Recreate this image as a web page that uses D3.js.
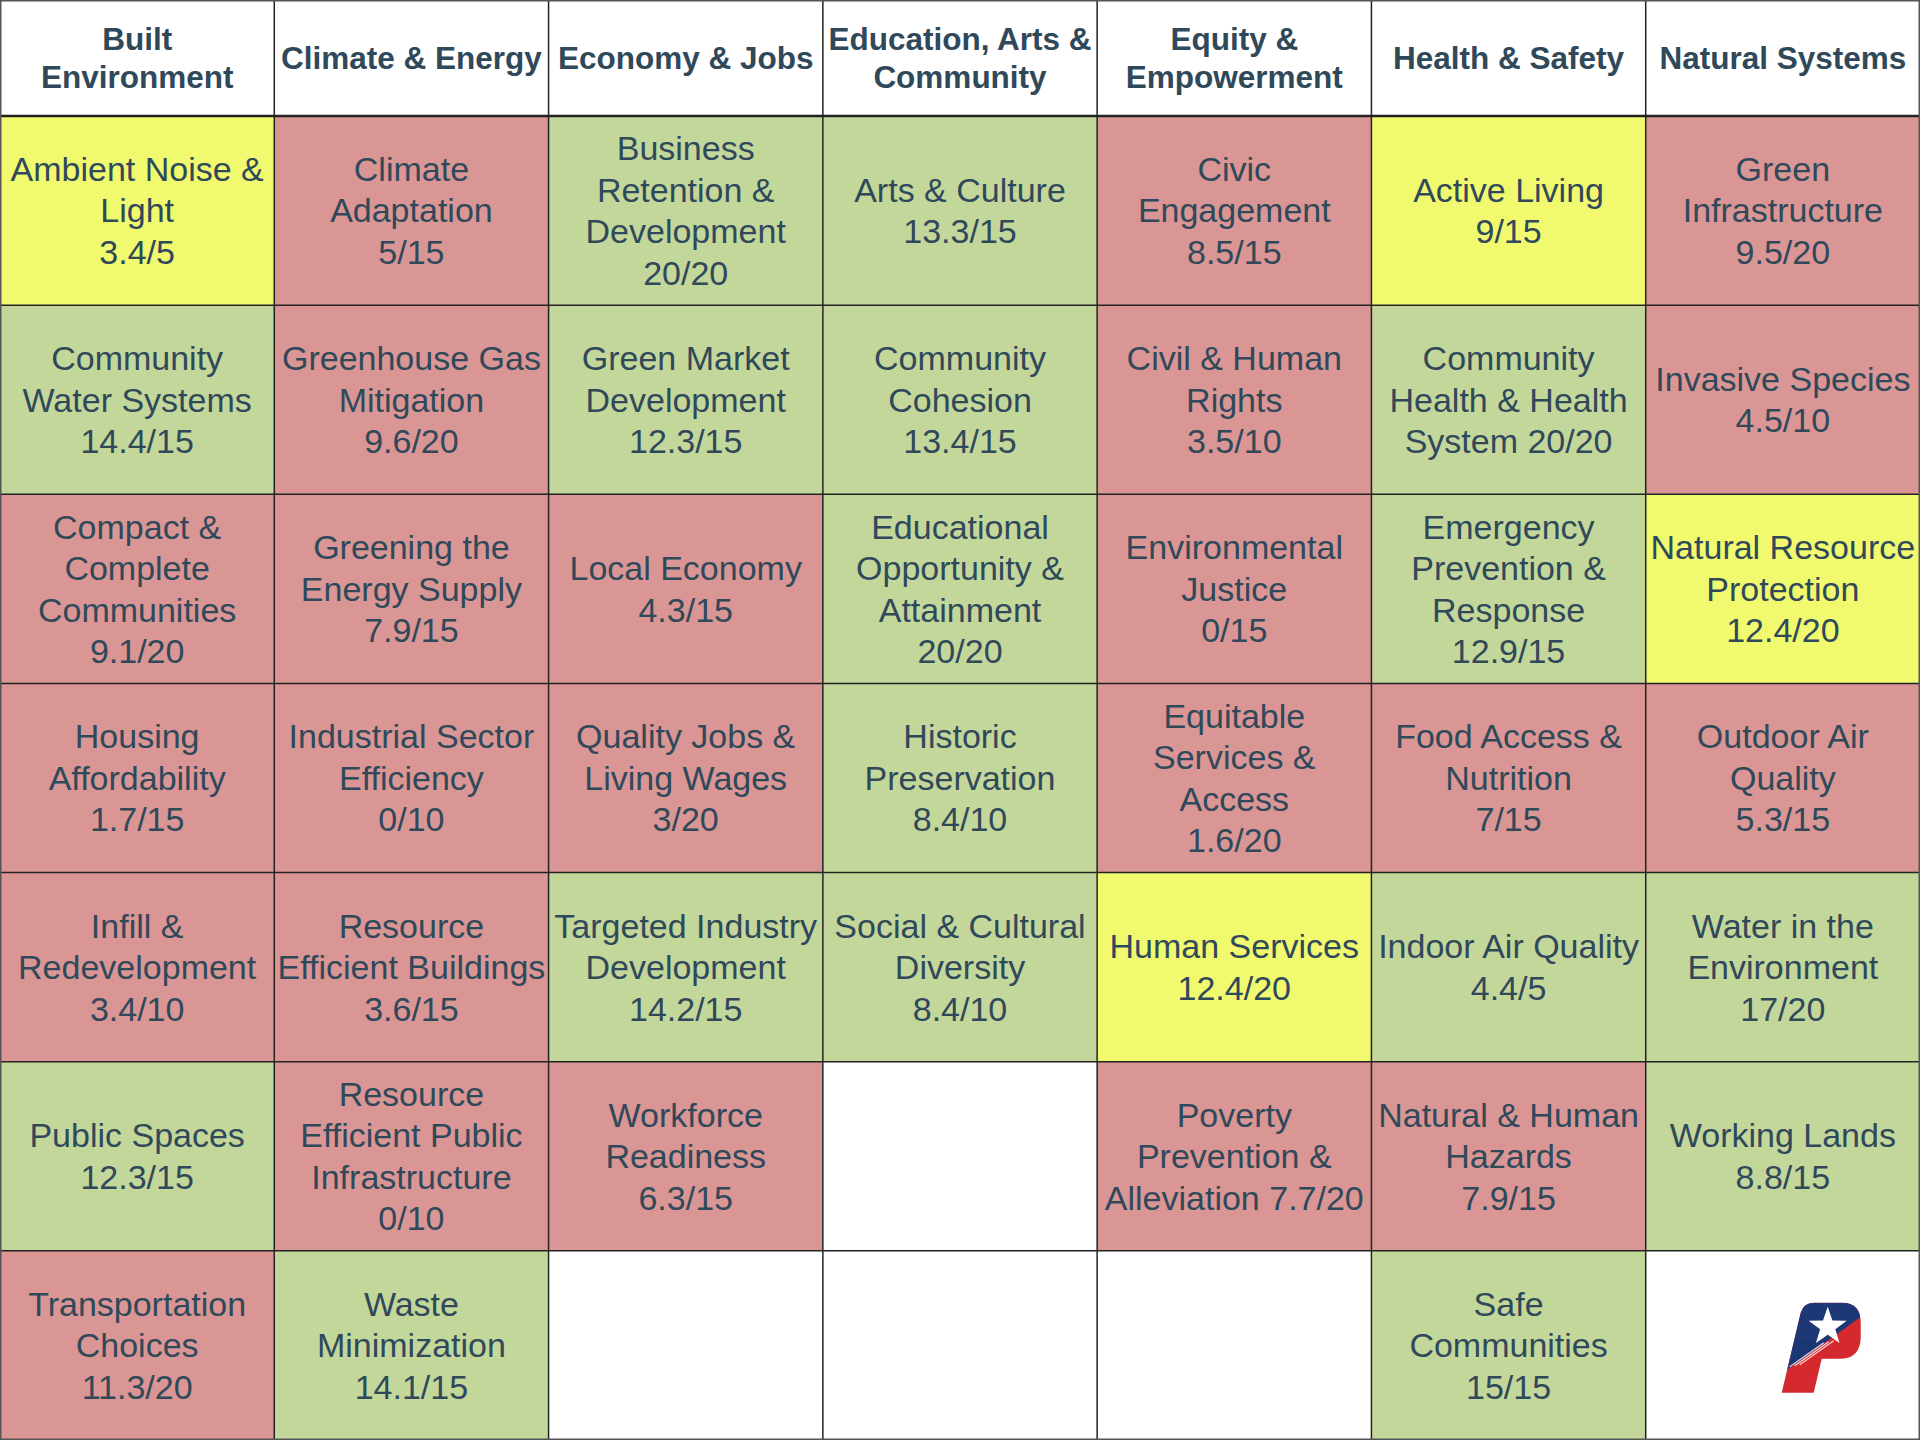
<!DOCTYPE html>
<html>
<head>
<meta charset="utf-8">
<script src="https://cdn.jsdelivr.net/npm/d3@7"></script>
<style>
  html, body { margin: 0; padding: 0; background: #fff; }
  svg { display: block; font-family: "Liberation Sans", Arial, sans-serif; }
</style>
</head>
<body>
<div id="chart"></div>
<script>
// column headings ("|" = line break)
const categories = [
  "Built|Environment",
  "Climate & Energy",
  "Economy & Jobs",
  "Education, Arts &|Community",
  "Equity &|Empowerment",
  "Health & Safety",
  "Natural Systems"
];

// objective names per column, top to bottom (null = empty cell)
const objectives = [
  ["Ambient Noise &|Light", "Community|Water Systems", "Compact &|Complete|Communities", "Housing|Affordability", "Infill &|Redevelopment", "Public Spaces", "Transportation|Choices"],
  ["Climate|Adaptation", "Greenhouse Gas|Mitigation", "Greening the|Energy Supply", "Industrial Sector|Efficiency", "Resource|Efficient Buildings", "Resource|Efficient Public|Infrastructure", "Waste|Minimization"],
  ["Business|Retention &|Development", "Green Market|Development", "Local Economy", "Quality Jobs &|Living Wages", "Targeted Industry|Development", "Workforce|Readiness", null],
  ["Arts & Culture", "Community|Cohesion", "Educational|Opportunity &|Attainment", "Historic|Preservation", "Social & Cultural|Diversity", null, null],
  ["Civic|Engagement", "Civil & Human|Rights", "Environmental|Justice", "Equitable|Services &|Access", "Human Services", "Poverty|Prevention &|Alleviation", null],
  ["Active Living", "Community|Health & Health|System", "Emergency|Prevention &|Response", "Food Access &|Nutrition", "Indoor Air Quality", "Natural & Human|Hazards", "Safe|Communities"],
  ["Green|Infrastructure", "Invasive Species", "Natural Resource|Protection", "Outdoor Air|Quality", "Water in the|Environment", "Working Lands", null]
];

// scores per column
const scores = [
  ["3.4/5", "14.4/15", "9.1/20", "1.7/15", "3.4/10", "12.3/15", "11.3/20"],
  ["5/15", "9.6/20", "7.9/15", "0/10", "3.6/15", "0/10", "14.1/15"],
  ["20/20", "12.3/15", "4.3/15", "3/20", "14.2/15", "6.3/15", null],
  ["13.3/15", "13.4/15", "20/20", "8.4/10", "8.4/10", null, null],
  ["8.5/15", "3.5/10", "0/15", "1.6/20", "12.4/20", "7.7/20", null],
  ["9/15", "20/20", "12.9/15", "7/15", "4.4/5", "7.9/15", "15/15"],
  ["9.5/20", "4.5/10", "12.4/20", "5.3/15", "17/20", "8.8/15", null]
];

// rating per column: g = on track, y = partial, r = needs work
const ratings = [
  ["y", "g", "r", "r", "r", "g", "r"],
  ["r", "r", "r", "r", "r", "r", "g"],
  ["g", "g", "r", "r", "g", "r", null],
  ["g", "g", "g", "g", "g", null, null],
  ["r", "r", "r", "r", "y", "r", null],
  ["y", "g", "g", "r", "g", "r", "g"],
  ["r", "r", "y", "r", "g", "g", null]
];

// objectives whose score sits on the last line of the name
const inlineScore = ["Community|Health & Health|System", "Poverty|Prevention &|Alleviation"];

const ratingColor = { g: "#c4d79b", y: "#f1fa6e", r: "#da9694" };
const textColor = "#30495a";

const width = 1920, height = 1440, headerH = 116;

const svg = d3.select("#chart").append("svg")
  .attr("width", width)
  .attr("height", height);

const x = d3.scaleBand().domain(d3.range(categories.length)).range([0, width]);
const y = d3.scaleBand().domain(d3.range(7)).range([headerH, height]);

// flatten to cells
const cells = [];
objectives.forEach((col, c) => col.forEach((name, r) => {
  cells.push({ c, r, name, score: scores[c][r], rating: ratings[c][r] });
}));

// header
const head = svg.append("g").selectAll("g").data(categories).join("g");
head.append("rect")
  .attr("x", (d, i) => x(i)).attr("y", 0)
  .attr("width", x.bandwidth()).attr("height", headerH)
  .attr("fill", "#fff");
head.each(function (d, i) {
  const lines = d.split("|");
  const lh = 37.3, fs = 31.5;
  d3.select(this).selectAll("text").data(lines).join("text")
    .attr("x", x(i) + x.bandwidth() / 2)
    .attr("y", (l, k) => headerH / 2 + (k - (lines.length - 1) / 2) * lh + fs * 0.35)
    .attr("text-anchor", "middle")
    .attr("font-size", fs)
    .attr("font-weight", "bold")
    .attr("fill", textColor)
    .text(l => l);
});

// body cells
const cell = svg.append("g").selectAll("g").data(cells).join("g");
cell.append("rect")
  .attr("x", d => x(d.c)).attr("y", d => y(d.r))
  .attr("width", x.bandwidth()).attr("height", y.bandwidth())
  .attr("fill", d => d.rating ? ratingColor[d.rating] : "#fff");

cell.filter(d => d.name).each(function (d) {
  let lines = d.name.split("|");
  if (inlineScore.includes(d.name)) lines[lines.length - 1] += " " + d.score;
  else lines.push(d.score);
  const lh = 41.5, fs = 34;
  const cy = y(d.r) + y.bandwidth() / 2;
  d3.select(this).selectAll("text").data(lines).join("text")
    .attr("x", x(d.c) + x.bandwidth() / 2)
    .attr("y", (l, k) => cy + (k - (lines.length - 1) / 2) * lh + fs * 0.35)
    .attr("text-anchor", "middle")
    .attr("font-size", fs)
    .attr("fill", textColor)
    .text(l => l);
});

// grid lines
const grid = svg.append("g").attr("stroke", "#222").attr("stroke-width", 1.5);
d3.range(1, categories.length).forEach(i => {
  grid.append("line").attr("x1", x(i)).attr("x2", x(i)).attr("y1", 0).attr("y2", height);
});
[headerH].concat(d3.range(1, 7).map(r => y(r))).forEach(v => {
  grid.append("line").attr("x1", 0).attr("x2", width).attr("y1", v).attr("y2", v)
    .attr("stroke-width", v === headerH ? 2.5 : 1.5);
});
svg.append("rect")
  .attr("x", 0.75).attr("y", 0.75)
  .attr("width", width - 1.5).attr("height", height - 1.5)
  .attr("fill", "none").attr("stroke", "#555").attr("stroke-width", 1.5);

// city logo in the empty bottom-right cell
const logo = svg.append("g")
  .attr("transform", `translate(${x(6) + 134},${y(6) + 50})`);
const pShape = "M2,92 L21,12 Q24,2 34,2 L62,2 Q81,2 81,22 L81,36 Q81,58 60,58 L42,58 L34,92 Z";
svg.append("defs").append("clipPath").attr("id", "pclip")
  .append("path").attr("d", pShape);
logo.append("path").attr("d", pShape).attr("fill", "#d42a2f");
logo.append("g").attr("clip-path", "url(#pclip)")
  .append("path")
  .attr("d", "M0,0 L84,0 L84,14 L0,74 Z")
  .attr("fill", "#1d3874");
logo.append("g").attr("clip-path", "url(#pclip)")
  .selectAll("line").data([0, 5, 10]).join("line")
  .attr("x1", d => 10 + d).attr("y1", d => 66 - d * 0.2)
  .attr("x2", d => 44 + d).attr("y2", d => 42 - d * 0.2)
  .attr("stroke", "#fff").attr("stroke-width", 1.2).attr("opacity", 0.8);
const star = d3.range(10).map(i => {
  const a = -Math.PI / 2 + i * Math.PI / 5, rr = i % 2 ? 8 : 20;
  return [48 + rr * Math.cos(a), 26 + rr * Math.sin(a)];
});
logo.append("path").attr("d", d3.line()(star) + "Z").attr("fill", "#fff");
</script>
</body>
</html>
